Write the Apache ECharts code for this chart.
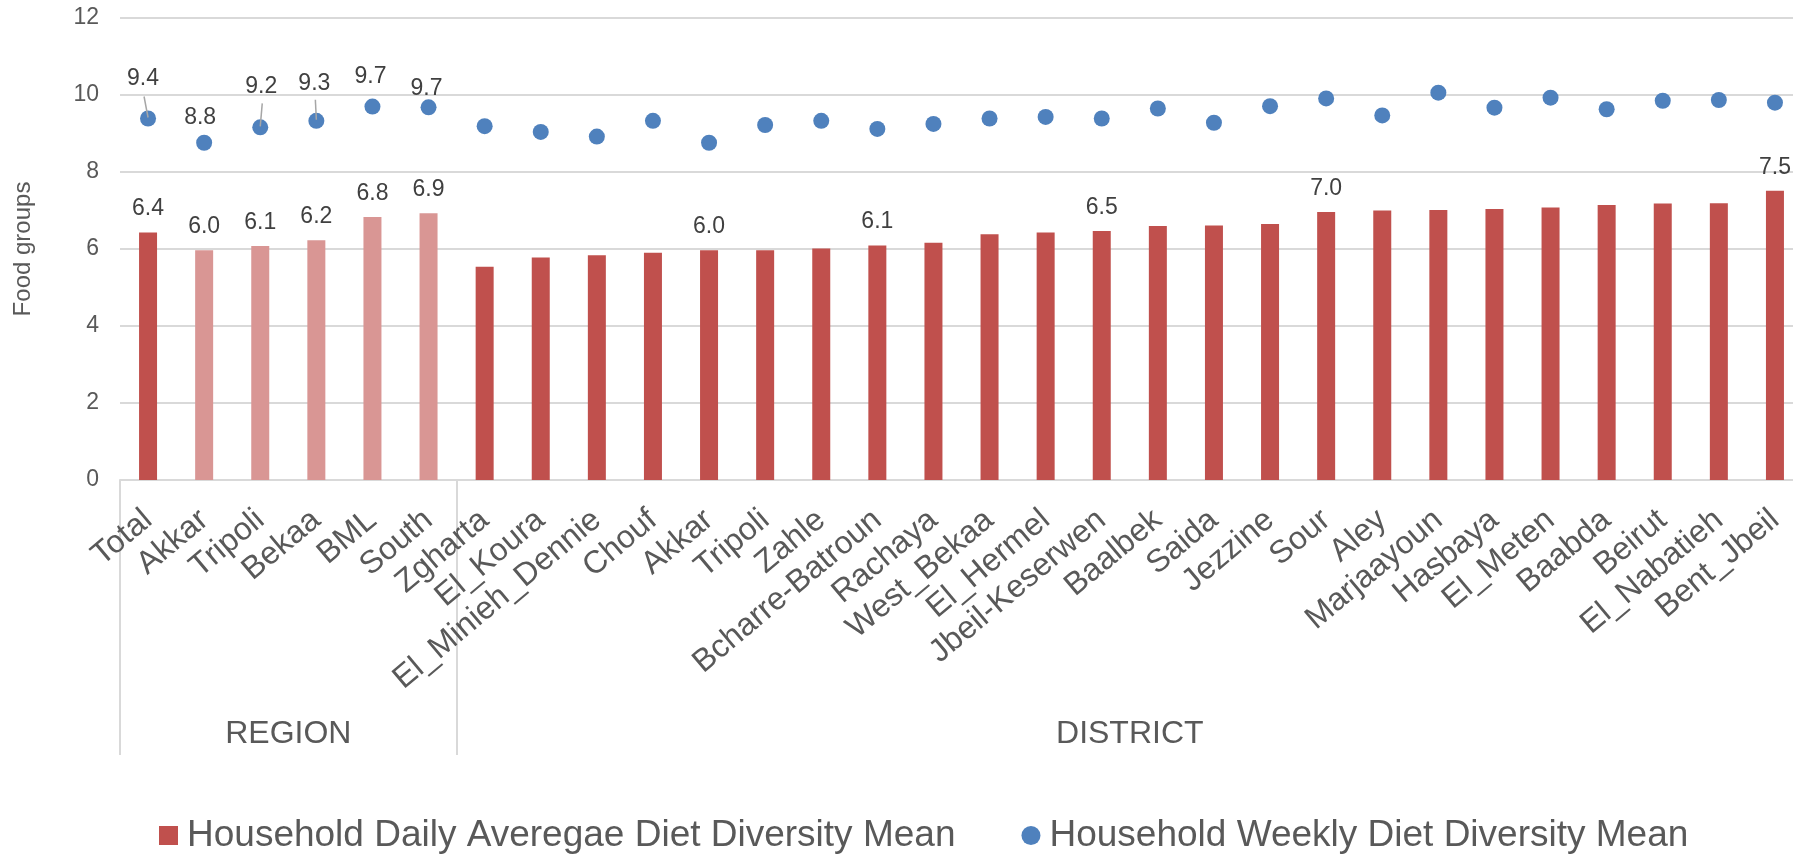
<!DOCTYPE html>
<html>
<head>
<meta charset="utf-8">
<title>Household Diet Diversity</title>
<script src="https://cdn.jsdelivr.net/npm/echarts@6/dist/echarts.min.js"></script>
<style>
  html, body { margin: 0; padding: 0; background: #ffffff; }
  #chart { width: 1793px; height: 854px; }
</style>
</head>
<body>
<div id="chart"></div>
<script>
// ---- data ----
const categories = [
  'Total', 'Akkar', 'Tripoli', 'Bekaa', 'BML', 'South',
  'Zgharta', 'El_Koura', 'El_Minieh_Dennie', 'Chouf', 'Akkar', 'Tripoli',
  'Zahle', 'Bcharre-Batroun', 'Rachaya', 'West_Bekaa', 'El_Hermel', 'Jbeil-Keserwen',
  'Baalbek', 'Saida', 'Jezzine', 'Sour', 'Aley', 'Marjaayoun',
  'Hasbaya', 'El_Meten', 'Baabda', 'Beirut', 'El_Nabatieh', 'Bent_Jbeil'
];
const dailyMean = [
  6.43, 5.97, 6.08, 6.23, 6.83, 6.93,
  5.54, 5.78, 5.84, 5.90, 5.97, 5.97,
  6.01, 6.09, 6.16, 6.38, 6.43, 6.47,
  6.60, 6.61, 6.65, 6.96, 7.00, 7.01,
  7.04, 7.08, 7.14, 7.18, 7.19, 7.51
];
const weeklyMean = [
  9.39, 8.76, 9.16, 9.33, 9.70, 9.68,
  9.19, 9.04, 8.92, 9.33, 8.76, 9.22,
  9.33, 9.12, 9.25, 9.39, 9.43, 9.39,
  9.65, 9.28, 9.71, 9.91, 9.47, 10.06,
  9.67, 9.93, 9.63, 9.85, 9.87, 9.80
];
const dailyLabelled = [0, 1, 2, 3, 4, 5, 10, 13, 17, 21, 29];
const weeklyLabelled = [0, 1, 2, 3, 4, 5];
const regionIndices = [1, 2, 3, 4, 5];
const groupNames = ['REGION', 'DISTRICT'];
const groupBounds = [0, 6, 30];   // category index where each group starts / ends
const yTicks = [0, 2, 4, 6, 8, 10, 12];

const dailyName = 'Household Daily Averegae Diet Diversity Mean';
const weeklyName = 'Household Weekly Diet Diversity Mean';

// ---- styling ----
const FONT = '"Liberation Sans", Arial, sans-serif';
const DARK_RED = '#C0504D';
const LIGHT_RED = '#D99694';
const BLUE = '#4F81BD';
const GRID = '#D9D9D9';
const AXIS_TEXT = '#595959';
const LABEL_TEXT = '#404040';
const LEADER = '#A6A6A6';

// label nudges for the weekly points (pixels)
const weeklyLabelOffset = { 0: [-5, -15], 1: [-4, -1], 2: [1, -16], 3: [-2, -13], 4: [-2, -5], 5: [-2, 6] };
// leader lines: pixel offset of the upper end relative to the point
const weeklyLeaderEnd = { 0: [-4, -22], 2: [2, -24], 3: [-1, -21] };
const weeklyLeader = Object.keys(weeklyLeaderEnd).map(Number);

const groupMids = groupNames.map((_, i) => (groupBounds[i] + groupBounds[i + 1]) / 2);

const chart = echarts.init(document.getElementById('chart'), null, { renderer: 'canvas' });

const option = {
  animation: false,
  textStyle: { fontFamily: FONT },
  grid: {
    left: 120, right: -10, top: 18, bottom: 374,
    containLabel: false,
    outerBoundsMode: 'none'
  },
  legend: {
    left: 154,
    top: 812,
    itemWidth: 19,
    itemHeight: 19,
    itemGap: 66,
    textStyle: { fontSize: 37, color: AXIS_TEXT, fontFamily: FONT, padding: [0, 0, 0, 4] },
    data: [
      { name: dailyName, icon: 'rect' },
      { name: weeklyName, icon: 'circle' }
    ]
  },
  xAxis: [
    {
      type: 'category',
      data: categories,
      boundaryGap: true,
      axisLine: { show: true, lineStyle: { color: GRID, width: 2 } },
      axisTick: { show: false },
      splitLine: { show: false },
      axisLabel: {
        interval: 0,
        rotate: 40,
        margin: 36,
        fontSize: 32,
        color: AXIS_TEXT,
        fontFamily: FONT
      }
    },
    {
      // grouping band under the category labels
      type: 'value',
      min: groupBounds[0],
      max: groupBounds[groupBounds.length - 1],
      position: 'bottom',
      axisLine: { show: false },
      splitLine: { show: false },
      axisTick: {
        show: true,
        inside: false,
        length: 275,
        customValues: groupBounds,
        lineStyle: { color: GRID, width: 2 }
      },
      axisLabel: {
        show: true,
        customValues: groupMids,
        margin: 238,
        fontSize: 32,
        color: AXIS_TEXT,
        fontFamily: FONT,
        formatter: function (v) {
          const i = groupMids.indexOf(v);
          return i >= 0 ? groupNames[i] : '';
        }
      }
    }
  ],
  yAxis: {
    type: 'value',
    min: yTicks[0],
    max: yTicks[yTicks.length - 1],
    interval: 2,
    name: 'Food groups',
    nameLocation: 'middle',
    nameGap: 85,
    nameMoveOverlap: false,
    nameTextStyle: { fontSize: 24, color: AXIS_TEXT, fontFamily: FONT },
    axisLine: { show: false },
    axisTick: { show: false },
    axisLabel: { fontSize: 23, color: AXIS_TEXT, margin: 21, fontFamily: FONT },
    splitLine: { show: true, lineStyle: { color: GRID, width: 2 } }
  },
  series: [
    {
      name: dailyName,
      type: 'bar',
      barWidth: 18,
      itemStyle: { color: DARK_RED },
      label: {
        show: false,
        position: 'top',
        distance: 12,
        fontSize: 23,
        color: LABEL_TEXT,
        fontFamily: FONT,
        formatter: p => p.value.toFixed(1)
      },
      data: dailyMean.map((v, i) => ({
        value: v,
        itemStyle: { color: regionIndices.includes(i) ? LIGHT_RED : DARK_RED },
        label: { show: dailyLabelled.includes(i) }
      }))
    },
    {
      name: weeklyName,
      type: 'scatter',
      symbol: 'circle',
      symbolSize: 16,
      z: 3,
      itemStyle: { color: BLUE, opacity: 1 },
      label: {
        show: false,
        position: 'top',
        distance: 5,
        fontSize: 23,
        color: LABEL_TEXT,
        fontFamily: FONT,
        formatter: p => p.value.toFixed(1)
      },
      emphasis: { disabled: true },
      data: weeklyMean.map((v, i) => {
        const shown = weeklyLabelled.includes(i);
        const item = { value: v, label: { show: shown } };
        if (shown && weeklyLabelOffset[i]) item.label.offset = weeklyLabelOffset[i];
        return item;
      })
    },
    {
      // leader lines from a few weekly labels down to their points
      name: 'weeklyLeader',
      type: 'custom',
      z: 4,
      silent: true,
      encode: { x: 0, y: 1 },
      data: weeklyLeader.map(i => [i, weeklyMean[i]]),
      renderItem: function (params, api) {
        const idx = api.value(0);
        const pt = api.coord([idx, api.value(1)]);
        const end = weeklyLeaderEnd[idx];
        return {
          type: 'line',
          shape: { x1: pt[0] + end[0], y1: pt[1] + end[1], x2: pt[0], y2: pt[1] - 1 },
          style: { stroke: LEADER, lineWidth: 1.5 }
        };
      }
    }
  ]
};

chart.setOption(option);
</script>
</body>
</html>
